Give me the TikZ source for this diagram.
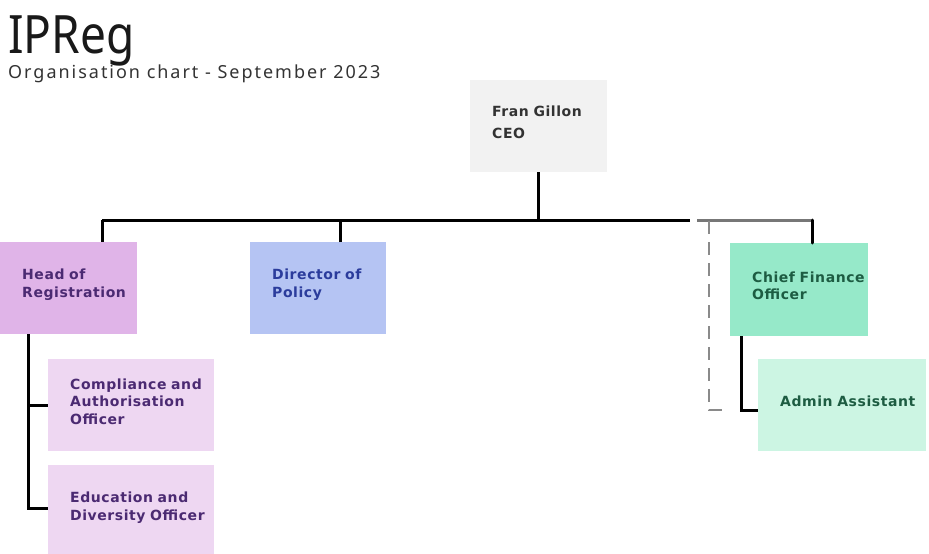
\documentclass[tikz,border=0pt]{standalone}
\usepackage{fontspec}
\setmainfont{DejaVu Sans}
\newfontfamily\titlefont{Noto Sans}
\newfontfamily\subfont{Noto Sans}[LetterSpace=11]
\newfontfamily\boxfont{DejaVu Sans}[LetterSpace=4]
\definecolor{ceofill}{HTML}{F2F2F2}
\definecolor{ceotext}{HTML}{333333}
\definecolor{regfill}{HTML}{E0B4E8}
\definecolor{regtext}{HTML}{4B2A72}
\definecolor{polfill}{HTML}{B5C4F3}
\definecolor{poltext}{HTML}{2B3C9C}
\definecolor{subfill}{HTML}{EED7F2}
\definecolor{cfofill}{HTML}{96E9C9}
\definecolor{cfotext}{HTML}{1D5C42}
\definecolor{admfill}{HTML}{CCF5E3}
\definecolor{dashgray}{HTML}{8A8A8A}
\definecolor{busgray}{HTML}{777777}
\tikzset{
  orgbox/.style={rectangle, draw=none, anchor=north west, inner xsep=22pt, inner ysep=0pt,
    align=left, font=\boxfont\bfseries\fontsize{14}{17.5}\selectfont,
    execute at end node={\par\vspace{#1}}},
  orgbox/.default=7pt,
  conn/.style={draw=black, line width=3pt},
  grayconn/.style={draw=busgray, line width=3pt},
  dashconn/.style={draw=dashgray, line width=2.2pt, dash pattern=on 13pt off 8pt}
}
\begin{document}
\begin{tikzpicture}[x=1pt,y=-1pt]
\useasboundingbox (0,0) rectangle (929,554);
\fill[white] (0,0) rectangle (929,554);

% title
\node[anchor=base west, inner sep=0pt, text=black!90, font=\titlefont\fontsize{46}{50}\selectfont] (title) at (8,53) {\scalebox{1}[1.15]{IPReg}};
\node[anchor=base west, inner sep=0pt, text=ceotext, font=\subfont\fontsize{18}{20}\selectfont] (subtitle) at (8,78) {Organisation chart - September 2023};

% boxes
\node[orgbox=8pt, fill=ceofill, text=ceotext, minimum width=137pt, minimum height=92pt, text width=93pt] (ceo) at (470,80) {Fran Gillon\\[4.5pt]CEO};
\node[orgbox, fill=regfill, text=regtext, minimum width=137pt, minimum height=92pt, text width=93pt] (reg) at (0,242) {Head of\\Registration};
\node[orgbox, fill=polfill, text=poltext, minimum width=136pt, minimum height=92pt, text width=92pt] (pol) at (250,242) {Director of\\Policy};
\node[orgbox=8pt, fill=cfofill, text=cfotext, minimum width=138pt, minimum height=93pt, text width=94pt] (cfo) at (730,243) {\mbox{Chief Finance}\\Officer};
\node[orgbox, fill=subfill, text=regtext, minimum width=166pt, minimum height=92pt, text width=122pt] (comp) at (48,359) {\mbox{Compliance and}\\Authorisation\\Officer};
\node[orgbox, fill=subfill, text=regtext, minimum width=166pt, minimum height=92pt, text width=122pt] (edu) at (48,465) {\mbox{Education and}\\\mbox{Diversity Officer}};
\node[orgbox, fill=admfill, text=cfotext, minimum width=168pt, minimum height=92pt, text width=124pt] (adm) at (758,359) {\mbox{Admin Assistant}};

% connectors
\coordinate (busL) at (102,220);
\coordinate (busR) at (690,220);
\coordinate (busG) at (697,220);
\coordinate (cfoTop) at ([xshift=82pt]cfo.north west);
\draw[conn] (ceo.south) -- (ceo.south |- busL);
\draw[conn] (busL) -- (busR);
\draw[conn] (busL) -- (busL |- reg.north);
\draw[conn] ([xshift=90pt]pol.north west) -- ++(0,-22);
\draw[grayconn] (busG) -- (cfoTop |- busG);
\draw[conn, line cap=round] (cfoTop |- busG) -- (cfoTop);

\draw[conn] ([xshift=28pt]reg.south west) |- ([yshift=3pt]edu.west);
\draw[conn] ([xshift=28pt]reg.south west |- comp.west) -- (comp.west);
\draw[conn] ([xshift=11pt]cfo.south west) |- ([yshift=-5pt]adm.west);

\coordinate (dashTop) at (709,221);
\coordinate (dashEnd) at (727,410);
\draw[dashconn] (dashTop) |- (dashEnd);
\end{tikzpicture}
\end{document}
